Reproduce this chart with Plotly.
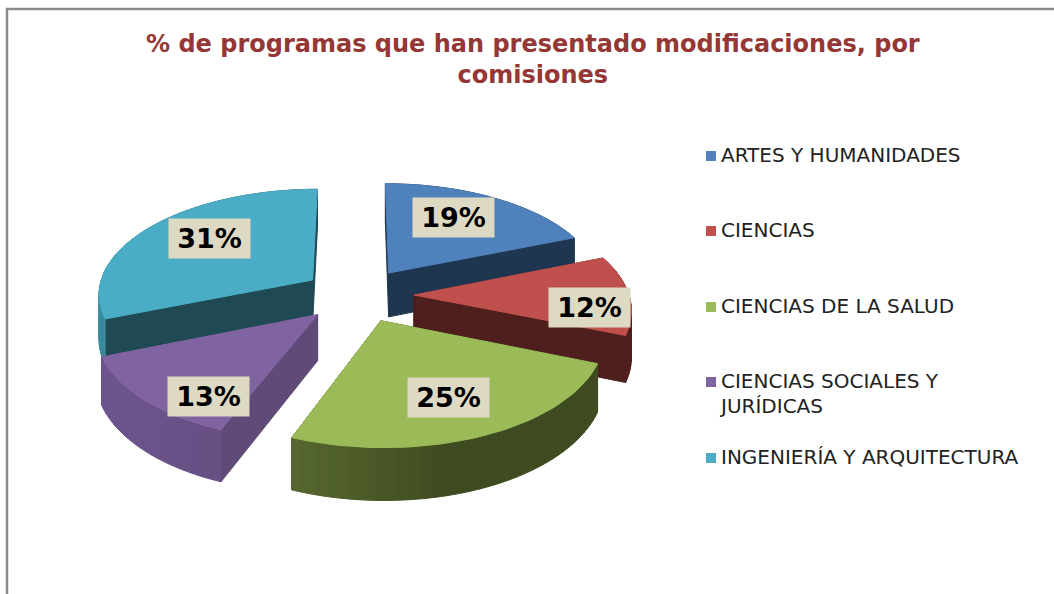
import numpy as np
import plotly.graph_objects as go

categories = ["ARTES Y HUMANIDADES", "CIENCIAS", "CIENCIAS DE LA SALUD",
              "CIENCIAS SOCIALES Y<br>JURÍDICAS", "INGENIERÍA Y ARQUITECTURA"]
values = [19, 12, 25, 13, 31]
top_colors = ["#4F81BD", "#C0504D", "#9BBB59", "#8064A2", "#4BACC6"]
wall_colors = ["#1F3650", "#4F1F1D", "#3F4B20", "#5F4A78", "#1F4A54"]
rim_light = ["#2F5070", "#5A2624", "#708540", "#6F5590", "#3A8CA0"]
rim_dark = ["#1F3650", "#4F1F1D", "#3F4B20", "#5F4A78", "#1F4A54"]
title_text = "% de programas que han presentado modificaciones, por<br>comisiones"

# projection settings
CX, CY, R, TILT, K, H, EXPL = 358, 295, 215, 0.488, 0.12, 45, 0.26


def project(x, y, z=0.0):
    p = 1.0 / (1.0 - K * y)
    return CX + R * x * p, CY + R * TILT * y * p + H * z * p


def blend(a, b, t):
    a = [int(a[i:i + 2], 16) for i in (1, 3, 5)]
    b = [int(b[i:i + 2], 16) for i in (1, 3, 5)]
    return "rgb(%d,%d,%d)" % tuple(round(u + (v - u) * t) for u, v in zip(a, b))


def poly(fig, pts, color, name=None):
    xs = [p[0] for p in pts] + [pts[0][0]]
    ys = [p[1] for p in pts] + [pts[0][1]]
    fig.add_trace(go.Scatter(x=xs, y=ys, mode="lines", fill="toself", fillcolor=color,
                             line=dict(color=color, width=1), hoverinfo="skip" if name is None else "name",
                             name=name or "", showlegend=False))


fig = go.Figure()
total = sum(values)
edges = np.cumsum([0] + values) / total * 2 * np.pi
slices = []
for i in range(len(values)):
    a0, a1 = edges[i], edges[i + 1]
    mid = (a0 + a1) / 2
    ox, oy = EXPL * np.sin(mid), -EXPL * np.cos(mid)
    slices.append((oy, i, a0, a1, ox, oy))

order = [4, 0, 1, 3, 2]
for i in order:
    _, _, a0, a1, ox, oy = slices[i]
    n = max(4, int((a1 - a0) / np.radians(2)))
    th = np.linspace(a0, a1, n + 1)
    wx = ox + np.sin(th)
    wy = oy - np.cos(th)
    faces = []
    for t0, t1, x0, x1, y0, y1 in zip(th[:-1], th[1:], wx[:-1], wx[1:], wy[:-1], wy[1:]):
        s = (np.sin((t0 + t1) / 2) + 1) / 2
        col = blend(rim_light[i], rim_dark[i], min(1, s * 1.6))
        faces.append(((y0 + y1) / 2, [project(x0, y0), project(x1, y1), project(x1, y1, 1), project(x0, y0, 1)], col))
    faces.append(((oy + wy[0]) / 2, [project(ox, oy), project(wx[0], wy[0]), project(wx[0], wy[0], 1), project(ox, oy, 1)], wall_colors[i]))
    faces.append(((oy + wy[-1]) / 2, [project(ox, oy), project(wx[-1], wy[-1]), project(wx[-1], wy[-1], 1), project(ox, oy, 1)], wall_colors[i]))
    for _, pts, col in sorted(faces, key=lambda f: f[0]):
        poly(fig, pts, col)
    poly(fig, [project(ox, oy)] + [project(x, y) for x, y in zip(wx, wy)], top_colors[i],
         name=categories[i].replace("<br>", " "))

# frame of the chart area
fig.add_shape(type="line", x0=7, x1=7, y0=8, y1=594, line=dict(color="#8A8A8A", width=2.5))
fig.add_shape(type="line", x0=6, x1=1054, y0=9, y1=9, line=dict(color="#8A8A8A", width=2.5))

# legend
legend_y = [156, 231, 307, 382, 458]
fig.add_trace(go.Scatter(x=[711] * 5, y=legend_y, mode="markers", hoverinfo="skip", showlegend=False,
                         marker=dict(symbol="square", size=10, color=top_colors)))
for name, y in zip(categories, legend_y):
    for j, line in enumerate(name.split("<br>")):
        fig.add_annotation(x=719 - 2 * j, y=y - 1 + 24.5 * j, xref="x", yref="y", text=line, showarrow=False,
                           xanchor="left", yanchor="middle", align="left",
                           font=dict(family="DejaVu Sans", size=20, color="#222222"))

# data labels
label_pos = [(453.5, 217.5), (589, 307), (448, 397.5), (208, 396.5), (209.5, 238)]
for v, (x, y) in zip(values, label_pos):
    fig.add_annotation(x=x, y=y, xref="x", yref="y", text=f"<b>{v}%</b>", showarrow=False, width=79, height=37,
                       bgcolor="#DDD9C3", font=dict(family="DejaVu Sans", size=27, color="#000000"))

fig.add_annotation(x=533, y=59, xref="x", yref="y", text=f"<b>{title_text}</b>", showarrow=False,
                   font=dict(family="DejaVu Sans", size=24, color="#953735"))

fig.update_layout(width=1054, height=594, margin=dict(l=0, r=0, t=0, b=0), paper_bgcolor="white",
                  plot_bgcolor="white", showlegend=False,
                  xaxis=dict(range=[0, 1054], visible=False, fixedrange=True),
                  yaxis=dict(range=[594, 0], visible=False, fixedrange=True))
fig.write_html("out.html", config=dict(displayModeBar=False),
               post_script="document.body.style.margin='0';document.documentElement.style.overflow='hidden';")
